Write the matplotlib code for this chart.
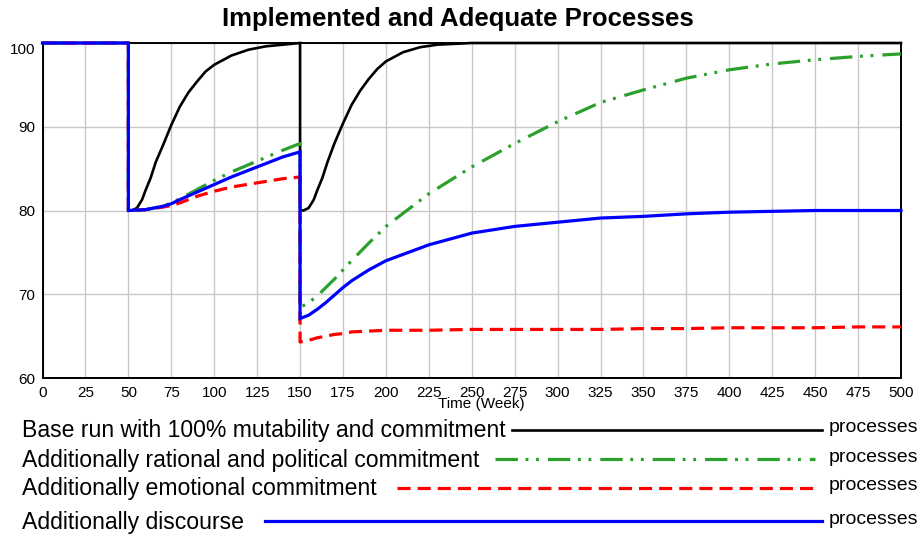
"""Implemented and adequate processes under four commitment scenarios."""

import matplotlib

matplotlib.use("Agg")
import matplotlib.pyplot as plt
from matplotlib.lines import Line2D

SANS = ["Liberation Sans", "DejaVu Sans"]

# base run: two shocks at week 50 and week 150, both recovering to 100
week_base = [0, 50, 50, 52, 55, 58, 60, 63, 66, 70, 75, 80, 85, 90, 95, 100,
             110, 120, 130, 140, 150, 150, 152, 155, 158, 160, 163, 166, 170,
             175, 180, 185, 190, 195, 200, 210, 220, 230, 240, 250, 300, 400, 500]
base = [100, 100, 80, 80, 80.3, 81.3, 82.4, 83.9, 85.8, 87.7, 90.2, 92.4, 94.1,
        95.4, 96.6, 97.4, 98.5, 99.2, 99.6, 99.8, 100, 80, 80, 80.3, 81.3, 82.4,
        83.9, 85.8, 88.0, 90.4, 92.6, 94.3, 95.7, 96.9, 97.8, 98.9, 99.5, 99.8,
        99.9, 100, 100, 100, 100]

week = [0, 50, 50, 60, 70, 75, 80, 90, 100, 110, 125, 140, 150, 150, 155, 160,
        165, 170, 175, 180, 190, 200, 225, 250, 275, 300, 325, 350, 375, 400,
        425, 450, 475, 500]
rational = [100, 100, 80, 80.1, 80.5, 80.9, 81.4, 82.5, 83.6, 84.6, 85.9, 87.2,
            88.0, 68.4, 69.0, 69.8, 70.8, 71.8, 72.9, 74.0, 76.1, 78.1, 82.0,
            85.2, 88.0, 90.6, 92.9, 94.4, 95.8, 96.8, 97.5, 98.0, 98.4, 98.7]
emotional = [100, 100, 80, 80.1, 80.4, 80.6, 80.9, 81.7, 82.3, 82.8, 83.3, 83.8,
             84.0, 64.3, 64.5, 64.8, 65.0, 65.2, 65.3, 65.5, 65.6, 65.7, 65.7,
             65.8, 65.8, 65.8, 65.8, 65.9, 65.9, 66.0, 66.0, 66.0, 66.1, 66.1]
discourse = [100, 100, 80, 80.1, 80.5, 80.8, 81.3, 82.2, 83.1, 84.0, 85.2, 86.4,
             87.0, 67.1, 67.5, 68.2, 69.0, 69.9, 70.8, 71.6, 72.9, 74.0, 75.9,
             77.3, 78.1, 78.6, 79.1, 79.3, 79.6, 79.8, 79.9, 80.0, 80.0, 80.0]

x_ticks = list(range(0, 501, 25))
y_ticks = [60, 70, 80, 90, 100]

labels = [
    "Base run with 100% mutability and commitment",
    "Additionally rational and political commitment",
    "Additionally emotional commitment",
    "Additionally discourse",
]

W, H = 919, 538
fig = plt.figure(figsize=(W / 100, H / 100), dpi=100)
ax = fig.add_axes([42.5 / W, 1 - 378 / H, (901 - 42.5) / W, (378 - 43) / H])


def fpx(x, y):
    """pixel position -> figure fraction"""
    return x / W, 1 - y / H


styles = [
    dict(color="black", lw=1.9, ls="-"),
    dict(color="#2ca02c", lw=2.3, ls=(0, (7.0, 2.4, 0.9, 2.4, 0.9, 2.8))),
    dict(color="#ff0000", lw=2.3, ls=(0, (4.1, 2.2))),
    dict(color="#0000ff", lw=2.3, ls="-"),
]
series = [(week_base, base), (week, rational), (week, emotional), (week, discourse)]
for (xs, ys), st in zip(series, styles):
    ax.plot(xs, ys, clip_on=False, zorder=3, solid_joinstyle="miter", **st)

ax.set_xlim(0, 500)
ax.set_ylim(60, 100)
ax.set_xticks(x_ticks)
ax.set_yticks(y_ticks)
ax.grid(True, color="#c8c8c8", lw=1.0)
ax.tick_params(length=0, labelsize=11, pad=5)
ax.tick_params(axis="x", pad=6)
for lab in ax.get_xticklabels() + ax.get_yticklabels():
    lab.set_fontfamily(SANS)
for sp in ax.spines.values():
    sp.set_color("black")
    sp.set_linewidth(1.4)
ax.get_yticklabels()[-1].set_verticalalignment("top")

fig.text(*fpx(458, 19), "Implemented and Adequate Processes", ha="center",
         va="center", fontsize=18.5, fontweight="bold", family=SANS)
fig.text(*fpx(481, 404), "Time (Week)", ha="center", va="center",
         fontsize=11, family=SANS)

# legend rows: label, sample line, unit
rows_y = [430, 459, 488, 521]
line_x0 = [512, 495, 397, 265]
line_x1 = [822, 815, 813, 822]
for lab, y, x0, x1, st in zip(labels, rows_y, line_x0, line_x1, styles):
    fig.text(*fpx(22, y + 1), lab, ha="left", va="center", fontsize=16.6,
             family=SANS)
    xa, ya = fpx(x0, y)
    xb, _ = fpx(x1, y)
    fig.add_artist(Line2D([xa, xb], [ya, ya], transform=fig.transFigure, **st))
    fig.text(*fpx(829, y - 2), "processes", ha="left", va="center",
             fontsize=14, family=SANS)

fig.savefig("out.png", dpi=100)
